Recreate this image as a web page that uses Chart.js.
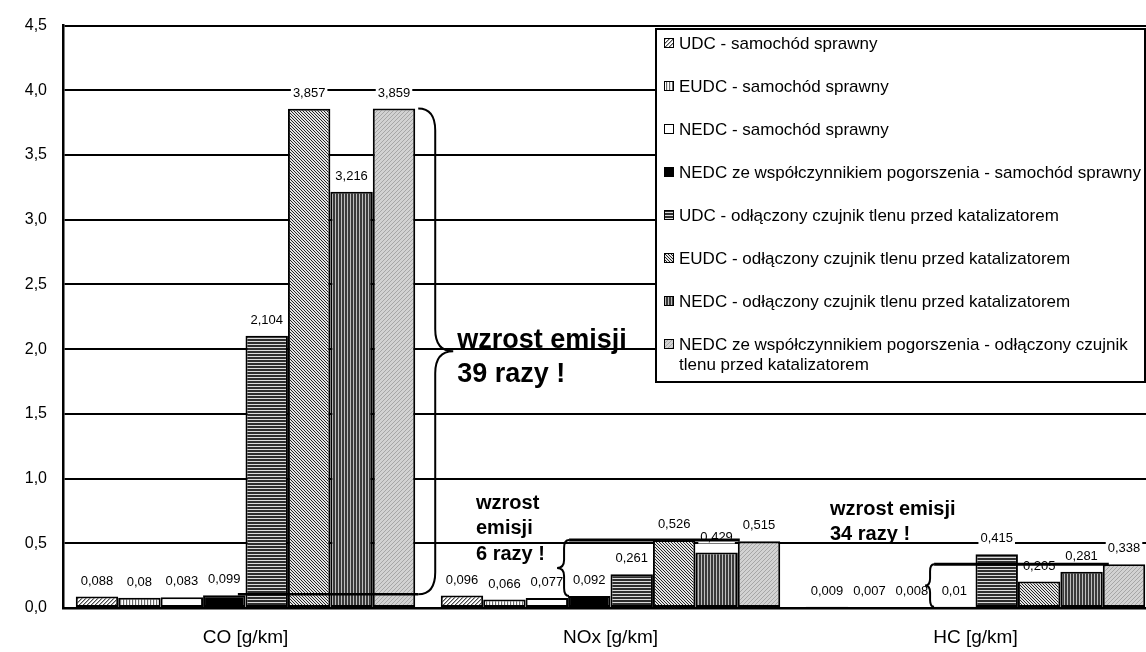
<!DOCTYPE html>
<html>
<head>
<meta charset="utf-8">
<script src="https://cdn.jsdelivr.net/npm/chart.js@4.4.1/dist/chart.umd.min.js"></script>
<style>
  html, body { margin: 0; padding: 0; background: #fff; overflow: hidden; width: 1146px; height: 652px; }
  canvas { display: block; }
</style>
</head>
<body>
<canvas id="chart" width="1180" height="652"></canvas>
<script>
// Emisja zanieczyszczeń: samochód sprawny vs. odłączony czujnik tlenu przed katalizatorem
const categories = ['CO [g/km]', 'NOx [g/km]', 'HC [g/km]'];

const seriesNames = [
  'UDC - samochód sprawny',
  'EUDC - samochód sprawny',
  'NEDC - samochód sprawny',
  'NEDC ze współczynnikiem pogorszenia - samochód sprawny',
  'UDC - odłączony czujnik tlenu przed katalizatorem',
  'EUDC - odłączony czujnik tlenu przed katalizatorem',
  'NEDC - odłączony czujnik tlenu przed katalizatorem',
  'NEDC ze współczynnikiem pogorszenia - odłączony czujnik tlenu przed katalizatorem'
];

// values per series, in the order CO, NOx, HC
const udcSprawny      = [0.088, 0.096, 0.009];
const eudcSprawny     = [0.08,  0.066, 0.007];
const nedcSprawny     = [0.083, 0.077, 0.008];
const nedcWspSprawny  = [0.099, 0.092, 0.01];
const udcOdlaczony    = [2.104, 0.261, 0.415];
const eudcOdlaczony   = [3.857, 0.526, 0.205];
const nedcOdlaczony   = [3.216, 0.429, 0.281];
const nedcWspOdlaczony = [3.859, 0.515, 0.338];

const yMin = 0, yMax = 4.5, yStep = 0.5;

const FONT = '"Liberation Sans", Arial, Helvetica, sans-serif';

// ---- fill patterns ----
function makePattern(w, h, paint) {
  const c = document.createElement('canvas');
  c.width = w; c.height = h;
  const g = c.getContext('2d');
  paint(g, w, h);
  return document.createElement('canvas').getContext('2d').createPattern(c, 'repeat');
}
function px(g, x, y, col) { g.fillStyle = col; g.fillRect(x, y, 1, 1); }

const fills = [
  // diagonal "/" hatch, light
  makePattern(4, 4, (g) => {
    g.fillStyle = '#ffffff'; g.fillRect(0, 0, 4, 4);
    for (let i = 0; i < 4; i++) { px(g, i, 3 - i, '#4a4a4a'); px(g, (i + 1) % 4, 3 - i, '#a8a8a8'); }
  }),
  // thin vertical stripes, light
  makePattern(3, 1, (g) => {
    px(g, 0, 0, '#6a6a6a'); px(g, 1, 0, '#e6e6e6'); px(g, 2, 0, '#ffffff');
  }),
  '#ffffff',
  '#000000',
  // horizontal stripes, dark
  makePattern(1, 3, (g) => {
    px(g, 0, 0, '#2e2e2e'); px(g, 0, 1, '#2e2e2e'); px(g, 0, 2, '#dcdcdc');
  }),
  // diagonal "\" hatch, fine
  makePattern(3, 3, (g) => {
    g.fillStyle = '#e4e4e4'; g.fillRect(0, 0, 3, 3);
    for (let i = 0; i < 3; i++) px(g, i, i, '#262626');
  }),
  // vertical stripes, dark
  makePattern(3, 1, (g) => {
    px(g, 0, 0, '#3a3a3a'); px(g, 1, 0, '#3a3a3a'); px(g, 2, 0, '#bdbdbd');
  }),
  // light grey with fine diagonal texture
  makePattern(4, 4, (g) => {
    g.fillStyle = '#d2d2d2'; g.fillRect(0, 0, 4, 4);
    for (let i = 0; i < 4; i++) px(g, i, 3 - i, '#a6a6a6');
  })
];

const seriesValues = [udcSprawny, eudcSprawny, nedcSprawny, nedcWspSprawny,
                      udcOdlaczony, eudcOdlaczony, nedcOdlaczony, nedcWspOdlaczony];

const datasets = seriesValues.map((vals, i) => ({
  label: seriesNames[i],
  data: vals,
  backgroundColor: fills[i],
  borderColor: '#000000',
  borderWidth: 2,
  borderSkipped: false,
  barPercentage: 1.0,
  categoryPercentage: 0.93
}));

const fmt = (v) => String(v).replace('.', ',');

// ---- helpers ----
function barGeom(chart, ds, idx) {
  const el = chart.getDatasetMeta(ds).data[idx];
  return { x: el.x, w: el.width, left: el.x - el.width / 2, right: el.x + el.width / 2, top: el.y };
}

function brace(ctx, xEnd, xSpine, xTip, yTop, yBot, r) {
  const yMid = (yTop + yBot) / 2;
  ctx.beginPath();
  ctx.moveTo(xEnd, yTop);
  ctx.quadraticCurveTo(xSpine, yTop, xSpine, yTop + r);
  ctx.lineTo(xSpine, yMid - r);
  ctx.quadraticCurveTo(xSpine, yMid, xTip, yMid);
  ctx.quadraticCurveTo(xSpine, yMid, xSpine, yMid + r);
  ctx.lineTo(xSpine, yBot - r);
  ctx.quadraticCurveTo(xSpine, yBot, xEnd, yBot);
  ctx.stroke();
  return yMid;
}

function wrapText(ctx, text, maxW) {
  const words = text.split(' ');
  const lines = [];
  let cur = '';
  for (const w of words) {
    const t = cur ? cur + ' ' + w : w;
    if (ctx.measureText(t).width > maxW && cur) { lines.push(cur); cur = w; }
    else cur = t;
  }
  if (cur) lines.push(cur);
  return lines;
}

const decorations = {
  id: 'decorations',
  // value labels with white background
  afterDatasetsDraw(chart) {
    const ctx = chart.ctx;
    ctx.save();
    ctx.font = '13px ' + FONT;
    ctx.textAlign = 'center';
    ctx.textBaseline = 'middle';
    chart.data.datasets.forEach((ds, d) => {
      chart.getDatasetMeta(d).data.forEach((el, i) => {
        const txt = fmt(ds.data[i]);
        const w = ctx.measureText(txt).width;
        const cy = el.y - 16;
        ctx.fillStyle = '#ffffff';
        ctx.fillRect(el.x - w / 2 - 2, cy - 7, w + 4, 14);
        ctx.fillStyle = '#000000';
        ctx.fillText(txt, el.x, cy + 0.5);
      });
    });
    ctx.restore();
  },
  afterDraw(chart) {
    const ctx = chart.ctx;
    const y = chart.scales.y;
    ctx.save();
    ctx.strokeStyle = '#000000';
    ctx.fillStyle = '#000000';
    ctx.lineCap = 'butt';

    // CO: brace between NEDC (sprawny, wsp.) and NEDC (odłączony, wsp.)
    {
      const b8 = barGeom(chart, 7, 0), b4 = barGeom(chart, 3, 0);
      const yTop = y.getPixelForValue(nedcWspOdlaczony[0]);
      const yBot = y.getPixelForValue(nedcWspSprawny[0]) - 1;
      const xEnd = b8.right + 3, xSpine = xEnd + 17, xTip = xSpine + 18;
      ctx.lineWidth = 2;
      const yMid = brace(ctx, xEnd, xSpine, xTip, yTop, yBot, 22);
      ctx.lineWidth = 2.5;
      ctx.beginPath();
      ctx.moveTo(xEnd, yBot);
      ctx.lineTo(b4.left + b4.w * 0.82, yBot);
      ctx.stroke();
      ctx.font = 'bold 27px ' + FONT;
      ctx.textAlign = 'left';
      ctx.textBaseline = 'alphabetic';
      ctx.fillText('wzrost emisji', xTip + 4, yMid - 3);
      ctx.fillText('39 razy !', xTip + 4, yMid + 31);
    }

    // NOx
    {
      const b4 = barGeom(chart, 3, 1), b8 = barGeom(chart, 7, 1), b1 = barGeom(chart, 0, 1);
      const yTop = y.getPixelForValue(eudcOdlaczony[1]);
      const yBot = y.getPixelForValue(nedcWspSprawny[1]);
      const xEnd = b4.left + 1, xSpine = xEnd - 5, xTip = xSpine - 7;
      ctx.lineWidth = 2;
      brace(ctx, xEnd, xSpine, xTip, yTop, yBot, 8);
      ctx.lineWidth = 3;
      ctx.beginPath();
      ctx.moveTo(xEnd, yTop);
      ctx.lineTo(b8.left + 2, yTop);
      ctx.stroke();
      ctx.font = 'bold 20px ' + FONT;
      ctx.textAlign = 'left';
      ctx.textBaseline = 'alphabetic';
      const tx = b1.x + 14;
      ctx.fillText('wzrost', tx, y.getPixelForValue(0.765));
      ctx.fillText('emisji', tx, y.getPixelForValue(0.57));
      ctx.fillText('6 razy !', tx, y.getPixelForValue(0.37));
    }

    // HC
    {
      const b4 = barGeom(chart, 3, 2), b8 = barGeom(chart, 7, 2), b1 = barGeom(chart, 0, 2);
      const yTop = y.getPixelForValue(nedcWspOdlaczony[2]);
      const yBot = y.getPixelForValue(nedcWspSprawny[2]);
      const xEnd = b4.left + 1, xSpine = xEnd - 4, xTip = xSpine - 5;
      ctx.lineWidth = 2;
      brace(ctx, xEnd, xSpine, xTip, yTop, yBot, 7);
      ctx.lineWidth = 3;
      ctx.beginPath();
      ctx.moveTo(xEnd, yTop);
      ctx.lineTo(b8.left + 6, yTop);
      ctx.stroke();
      ctx.font = 'bold 20px ' + FONT;
      ctx.textAlign = 'left';
      ctx.textBaseline = 'alphabetic';
      const tx = b1.x + 3;
      ctx.fillText('wzrost emisji', tx, y.getPixelForValue(0.718));
      ctx.fillText('34 razy !', tx, y.getPixelForValue(0.526));
    }

    // legend box
    {
      const bx = 656, by = 29, bw = 489, bh = 353;
      ctx.fillStyle = '#ffffff';
      ctx.fillRect(bx, by, bw, bh);
      ctx.lineWidth = 2;
      ctx.strokeStyle = '#000000';
      ctx.strokeRect(bx, by, bw, bh);
      ctx.font = '17px ' + FONT;
      ctx.textAlign = 'left';
      ctx.textBaseline = 'middle';
      chart.data.datasets.forEach((ds, i) => {
        const cy = by + 14 + i * 43;
        ctx.fillStyle = ds.backgroundColor;
        ctx.fillRect(664, cy - 5, 10, 10);
        ctx.lineWidth = 1;
        ctx.strokeStyle = '#000000';
        ctx.strokeRect(664.5, cy - 4.5, 9, 9);
        ctx.fillStyle = '#000000';
        const lines = wrapText(ctx, ds.label, 466);
        lines.forEach((ln, k) => ctx.fillText(ln, 679, cy + 1 + k * 20));
      });
    }
    ctx.restore();
  }
};

new Chart(document.getElementById('chart'), {
  type: 'bar',
  data: { labels: categories, datasets },
  options: {
    responsive: false,
    animation: false,
    devicePixelRatio: 1,
    layout: { padding: { left: 0, right: 22, top: 21, bottom: 0 } },
    plugins: {
      legend: { display: false },
      tooltip: { enabled: false }
    },
    scales: {
      x: {
        grid: { display: false, drawTicks: false },
        border: { display: true, color: '#000000', width: 2.5 },
        ticks: { color: '#000000', font: { family: FONT, size: 19 }, padding: 18 },
        afterFit(scale) { scale.height = 44; }
      },
      y: {
        min: yMin,
        max: yMax,
        grid: { color: '#000000', lineWidth: 2, drawTicks: false },
        border: { display: true, color: '#000000', width: 2.5 },
        ticks: {
          stepSize: yStep,
          color: '#000000',
          font: { family: FONT, size: 16 },
          padding: 16,
          callback: (v) => v.toFixed(1).replace('.', ',')
        },
        afterFit(scale) { scale.width = 63; }
      }
    }
  },
  plugins: [decorations]
});
</script>
</body>
</html>
